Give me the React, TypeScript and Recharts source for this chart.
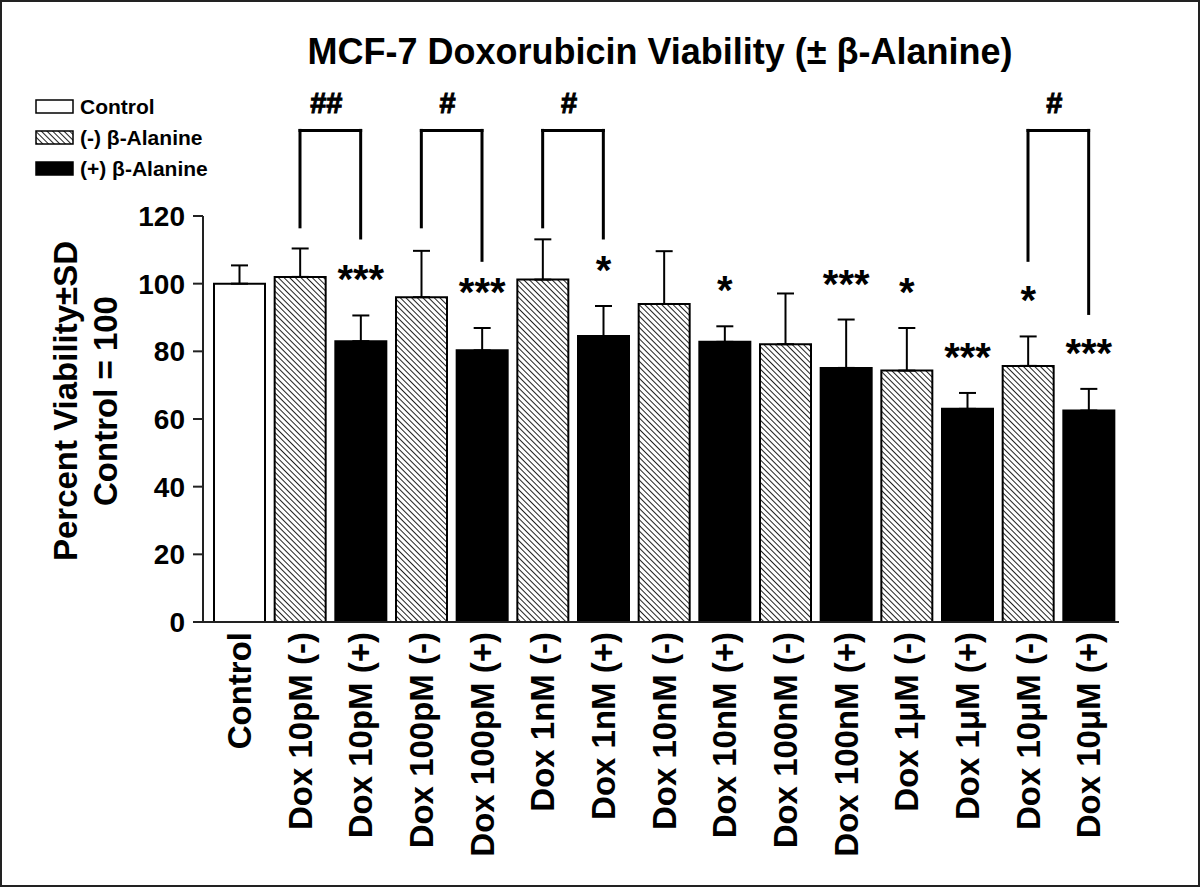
import React from 'react';
import { BarChart, Bar, XAxis, YAxis, Cell, ErrorBar, LabelList, ReferenceLine } from 'recharts';

const FONT = '"Liberation Sans", Arial, Helvetica, sans-serif';

const categories = [
  'Control',
  'Dox 10pM (-)',
  'Dox 10pM (+)',
  'Dox 100pM (-)',
  'Dox 100pM (+)',
  'Dox 1nM (-)',
  'Dox 1nM (+)',
  'Dox 10nM (-)',
  'Dox 10nM (+)',
  'Dox 100nM (-)',
  'Dox 100nM (+)',
  'Dox 1μM (-)',
  'Dox 1μM (+)',
  'Dox 10μM (-)',
  'Dox 10μM (+)',
];
const groups = ['control', 'minus', 'plus', 'minus', 'plus', 'minus', 'plus', 'minus', 'plus', 'minus', 'plus', 'minus', 'plus', 'minus', 'plus'];
const viability = [100, 102, 83, 96, 80.3, 101.2, 84.5, 94, 82.8, 82.1, 75.1, 74.3, 63, 75.7, 62.5];
const sd = [5.4, 8.4, 7.6, 13.7, 6.6, 11.9, 8.9, 15.6, 4.6, 15.0, 14.3, 12.6, 4.7, 8.7, 6.4];
const stars = ['', '', '***', '', '***', '', '*', '', '*', '', '***', '*', '***', '*', '***'];
const yTicks = [0, 20, 40, 60, 80, 100, 120];

// brackets comparing (-) vs (+) beta-alanine, heights in axis units
const bracketFrom = ['Dox 10pM (-)', 'Dox 100pM (-)', 'Dox 1nM (-)', 'Dox 10μM (-)'];
const bracketTo = ['Dox 10pM (+)', 'Dox 100pM (+)', 'Dox 1nM (+)', 'Dox 10μM (+)'];
const bracketLabels = ['##', '#', '#', '#'];
const bracketTop = 145.3;
const bracketLeftEnd = [116.8, 116.8, 116.8, 106.9];
const bracketRightEnd = [113.5, 106.9, 113.5, 91.2];

const legendNames = ['Control', '(-) β-Alanine', '(+) β-Alanine'];
const legendGroups = ['control', 'minus', 'plus'];

const data = categories.map((name, i) => ({
  name,
  group: groups[i],
  value: viability[i],
  err: [0, sd[i]],
  sig: stars[i],
}));

const fillFor = (g: string) => (g === 'control' ? '#fff' : g === 'minus' ? 'url(#hatch)' : '#000');

const XTick = (props: any) => {
  const { x, y, payload } = props;
  return (
    <text
      x={x}
      y={y}
      dy={11.5}
      transform={`rotate(-90, ${x}, ${y})`}
      textAnchor="end"
      fill="#000"
      fontSize={33}
      fontWeight="bold"
      fontFamily={FONT}
    >
      {payload.value}
    </text>
  );
};

const renderStar = (props: any) => {
  const { x, y, width, height, index } = props;
  const s = stars[index];
  if (!s) return null;
  const pxPerUnit = Math.abs(height) / viability[index];
  const errTop = y - sd[index] * pxPerUnit;
  return (
    <text x={x + width / 2} y={errTop - 22} textAnchor="middle" fill="#000" fontSize={40} fontWeight="bold" fontFamily={FONT}>
      {s}
    </text>
  );
};

const bracketLabel = (text: string) => (props: any) => {
  const { viewBox } = props;
  const cx = viewBox.x + viewBox.width / 2 - 4;
  return (
    <text
      x={cx}
      y={viewBox.y - 17}
      textAnchor="middle"
      fill="#000"
      stroke="#000"
      strokeWidth={1}
      fontSize={29}
      fontWeight="bold"
      fontFamily={FONT}
    >
      {text}
    </text>
  );
};

const renderYLabel = (props: any) => {
  const { viewBox } = props;
  const cy = viewBox.y + viewBox.height / 2 - 18;
  const common = { textAnchor: 'middle' as const, fill: '#000', fontSize: 33, fontWeight: 'bold', fontFamily: FONT };
  return (
    <g>
      <text x={77} y={cy} transform={`rotate(-90, 77, ${cy})`} {...common}>
        Percent Viability±SD
      </text>
      <text x={117} y={cy} transform={`rotate(-90, 117, ${cy})`} {...common}>
        Control = 100
      </text>
    </g>
  );
};

const HatchDef = () => (
  <pattern id="hatch" patternUnits="userSpaceOnUse" width={4} height={4} patternTransform="rotate(-45)">
    <rect width={4} height={4} fill="#fff" />
    <line x1={0} y1={0} x2={0} y2={4} stroke="#222" strokeWidth={2} />
  </pattern>
);

const Legend = () => (
  <svg width={300} height={200} style={{ position: 'absolute', left: 0, top: 0 }}>
    <defs>
      <pattern id="hatchLegend" patternUnits="userSpaceOnUse" width={4} height={4} patternTransform="rotate(-45)">
        <rect width={4} height={4} fill="#fff" />
        <line x1={0} y1={0} x2={0} y2={4} stroke="#222" strokeWidth={2} />
      </pattern>
    </defs>
    {legendNames.map((n, i) => {
      const g = legendGroups[i];
      const top = 100 + i * 31;
      return (
        <g key={n}>
          <rect
            x={36}
            y={top}
            width={37}
            height={13}
            fill={g === 'minus' ? 'url(#hatchLegend)' : g === 'plus' ? '#000' : '#fff'}
            stroke="#000"
            strokeWidth={1.5}
          />
          <text x={80} y={top + 14} fill="#000" fontSize={21} fontWeight="bold" fontFamily={FONT}>
            {n}
          </text>
        </g>
      );
    })}
  </svg>
);

export default function App() {
  return (
    <div
      style={{
        position: 'absolute',
        left: 0,
        top: 0,
        width: 1200,
        height: 887,
        background: '#fff',
        boxShadow: 'inset 0 0 0 2px #222',
        fontFamily: FONT,
      }}
    >
      <div
        style={{
          position: 'absolute',
          left: 0,
          width: 1320,
          top: 30,
          textAlign: 'center',
          fontSize: 36,
          fontWeight: 'bold',
          color: '#000',
          lineHeight: '44px',
        }}
      >
        MCF-7 Doxorubicin Viability (± β-Alanine)
      </div>
      <Legend />
      <div style={{ position: 'absolute', left: 0, top: 0 }}>
        <BarChart width={1200} height={887} data={data} margin={{ top: 216, right: 81, left: 0, bottom: 0 }}>
          <defs>
            <HatchDef />
          </defs>
          <XAxis
            dataKey="name"
            height={265}
            interval={0}
            padding={{ left: 6, right: 0 }}
            tickLine={false}
            tickSize={0}
            tickMargin={10}
            axisLine={{ stroke: '#222', strokeWidth: 2 }}
            tick={<XTick />}
          />
          <YAxis
            width={203}
            domain={[0, 120]}
            ticks={yTicks}
            interval={0}
            tickSize={10}
            tickMargin={8}
            axisLine={{ stroke: '#222', strokeWidth: 2 }}
            tickLine={{ stroke: '#222', strokeWidth: 2 }}
            tick={{ fill: '#000', fontSize: 28, fontWeight: 'bold', fontFamily: FONT }}
            label={renderYLabel}
          />
          {bracketFrom.map((f, i) => (
            <ReferenceLine
              key={`l${i}`}
              ifOverflow="visible"
              stroke="#000"
              strokeWidth={3}
              strokeLinecap="square"
              segment={[
                { x: f, y: bracketTop },
                { x: f, y: bracketLeftEnd[i] },
              ]}
            />
          ))}
          {bracketTo.map((t, i) => (
            <ReferenceLine
              key={`r${i}`}
              ifOverflow="visible"
              stroke="#000"
              strokeWidth={3}
              strokeLinecap="square"
              segment={[
                { x: t, y: bracketTop },
                { x: t, y: bracketRightEnd[i] },
              ]}
            />
          ))}
          {bracketFrom.map((f, i) => (
            <ReferenceLine
              key={`t${i}`}
              ifOverflow="visible"
              stroke="#000"
              strokeWidth={3}
              strokeLinecap="square"
              segment={[
                { x: f, y: bracketTop },
                { x: bracketTo[i], y: bracketTop },
              ]}
              label={bracketLabel(bracketLabels[i])}
            />
          ))}
          <Bar dataKey="value" barSize={51} stroke="#000" strokeWidth={2} isAnimationActive={false}>
            {data.map((d) => (
              <Cell key={d.name} fill={fillFor(d.group)} stroke="#000" strokeWidth={2} />
            ))}
            <ErrorBar dataKey="err" direction="y" width={8.5} stroke="#000" strokeWidth={2} isAnimationActive={false} />
            <LabelList dataKey="sig" content={renderStar} />
          </Bar>
        </BarChart>
      </div>
    </div>
  );
}
